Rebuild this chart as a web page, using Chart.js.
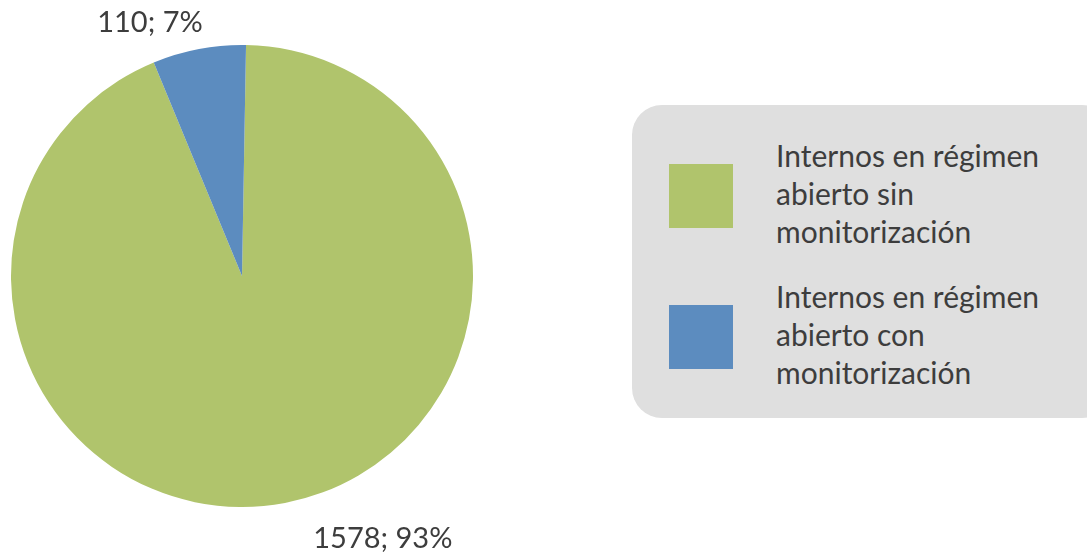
<!DOCTYPE html>
<html>
<head>
<meta charset="utf-8">
<script src="https://cdn.jsdelivr.net/npm/chart.js@4"></script>
<style>
  html, body { margin: 0; padding: 0; background: #fff; }
  #wrap { position: relative; width: 1087px; height: 554px; overflow: hidden; }
  #pie { position: absolute; left: 0; top: 0; }
  #legend {
    position: absolute; left: 632px; top: 105px; width: 480px; height: 313px;
    background: #dfdfdf; border-radius: 30px;
    font-family: Lato, "Open Sans", sans-serif; font-size: 30px; line-height: 38px; color: #3d3d3d;
  }
  .sw { position: absolute; left: 37px; width: 64px; height: 64px; }
  .tx { position: absolute; left: 144px; width: 320px; }
</style>
</head>
<body>
<div id="wrap">
  <canvas id="pie" width="1087" height="554"></canvas>
  <div id="legend"></div>
</div>
<script>
// Datos
var categorias = [
  ['Internos en régimen', 'abierto sin', 'monitorización'],
  ['Internos en régimen', 'abierto con', 'monitorización']
];
var internos = [1578, 110];
var porcentajes = [93, 7];
var colores = ['#b0c46c', '#5c8cbf'];

// etiquetas de datos fuera de la tarta
var etiquetasPlugin = {
  id: 'etiquetas',
  afterDatasetsDraw: function (chart, args, opts) {
    var ctx = chart.ctx;
    var meta = chart.getDatasetMeta(0);
    ctx.save();
    ctx.font = '29px Lato, "Open Sans", sans-serif';
    ctx.fillStyle = '#3d3d3d';
    ctx.textBaseline = 'alphabetic';
    meta.data.forEach(function (arc, i) {
      var p = arc.getProps(['x', 'y', 'startAngle', 'endAngle', 'outerRadius'], true);
      var mid = (p.startAngle + p.endAngle) / 2;
      var r = p.outerRadius + 12;
      var ax = p.x + Math.cos(mid) * r;
      var ay = p.y + Math.sin(mid) * r;
      var off = opts.offsets[i];
      ctx.textAlign = ax < p.x ? 'right' : 'left';
      ctx.fillText(internos[i] + '; ' + porcentajes[i] + '%', ax + off[0], ay + off[1]);
    });
    ctx.restore();
  }
};

var chart = new Chart(document.getElementById('pie').getContext('2d'), {
  type: 'pie',
  data: {
    labels: categorias.map(function (c) { return c.join(' '); }),
    datasets: [{
      data: internos,
      backgroundColor: colores,
      borderWidth: 0
    }]
  },
  options: {
    responsive: false,
    animation: false,
    rotation: 1,
    layout: { padding: { left: 11, right: 614, top: 45, bottom: 47 } },
    plugins: {
      legend: { display: false },
      tooltip: { enabled: false },
      etiquetas: { offsets: [[26, 33], [6, -5]] }
    }
  },
  plugins: [etiquetasPlugin]
});

// leyenda
var leg = document.getElementById('legend');
var swTops = [59, 200];
var txTops = [31, 172];
categorias.forEach(function (c, i) {
  var sw = document.createElement('div');
  sw.className = 'sw';
  sw.style.top = swTops[i] + 'px';
  sw.style.background = colores[i];
  leg.appendChild(sw);
  var tx = document.createElement('div');
  tx.className = 'tx';
  tx.style.top = txTops[i] + 'px';
  tx.innerHTML = c.join('<br>');
  leg.appendChild(tx);
});
</script>
</body>
</html>
